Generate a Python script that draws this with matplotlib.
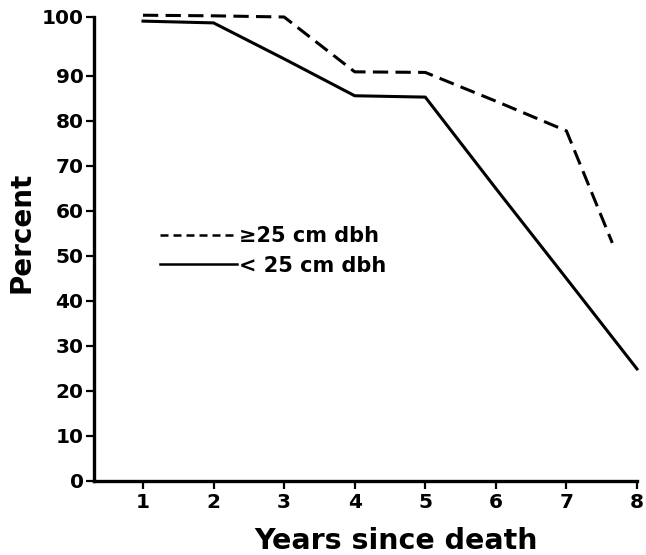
import numpy as np
import matplotlib
matplotlib.use("Agg")
import matplotlib.pyplot as plt
from matplotlib.lines import Line2D

# ---- data ----
years_large = [1, 2, 3, 4, 5, 6, 7, 7.65]
pct_large = [100.3, 100.2, 100.0, 90.7, 90.6, 84.4, 77.8, 52.9]

years_small = [1, 2, 3, 4, 5, 6, 7, 8]
pct_small = [99.3, 99.0, 92.9, 85.6, 85.3, 65.0, 45.0, 24.9]

label_large = "\u226525 cm dbh"
label_small = "< 25 cm dbh"
x_ticks = [1, 2, 3, 4, 5, 6, 7, 8]
y_ticks = [0, 10, 20, 30, 40, 50, 60, 70, 80, 90, 100]

# stretched top segment of the hand-drawn y axis (90-100)
BREAK = 90.0
STRETCH = 1.31


def fwd(y):
    y = np.asarray(y, dtype=float)
    return np.where(y <= BREAK, y, BREAK + (y - BREAK) * STRETCH)


def inv(u):
    u = np.asarray(u, dtype=float)
    return np.where(u <= BREAK, u, BREAK + (u - BREAK) / STRETCH)


W, H = 646, 555
fig = plt.figure(figsize=(W / 100, H / 100), dpi=100)
ax = fig.add_axes([94 / W, (H - 481) / H, 543 / W, 464 / H])
ax.set_yscale("function", functions=(fwd, inv))

lw = 2.2
ax.plot(years_large, pct_large, color="black", lw=lw, dashes=(5, 2.4),
        solid_joinstyle="miter", clip_on=False)
ax.plot(years_small, pct_small, color="black", lw=lw, clip_on=False)

ax.set_xlim(0.306, 8)
ax.set_ylim(0, 100)
ax.set_xticks(x_ticks)
ax.set_yticks(y_ticks)
ax.set_xticklabels([str(v) for v in x_ticks])
ax.set_yticklabels([str(v) for v in y_ticks])
ax.yaxis.set_minor_locator(matplotlib.ticker.NullLocator())

for s in ("top", "right"):
    ax.spines[s].set_visible(False)
for s in ("left", "bottom"):
    ax.spines[s].set_linewidth(2.4)

font = "DejaVu Sans"
ax.tick_params(axis="both", direction="out", length=5.5, width=1.6,
               labelsize=14.5, pad=2)
ax.tick_params(axis="x", labelsize=14.5, pad=3)
for t in ax.get_xticklabels() + ax.get_yticklabels():
    t.set_fontweight("bold")
    t.set_family(font)

ax.set_xlabel("Years since death", fontsize=20.5, fontweight="bold", family=font)
ax.set_ylabel("Percent", fontsize=20, fontweight="bold", family=font)
ax.xaxis.set_label_coords((396 - 94) / 543, (481 - 549) / 464)
ax.xaxis.label.set_va("baseline")
ax.yaxis.set_label_coords((22 - 94) / 543, (481 - 232) / 464)
ax.yaxis.label.set_va("center")

handles = [
    Line2D([], [], color="black", lw=1.8, dashes=(3.2, 2.0)),
    Line2D([], [], color="black", lw=1.8),
]
leg = ax.legend(handles, [label_large, label_small], loc="center left",
                bbox_to_anchor=(160 / W, 1 - 251 / H), bbox_transform=fig.transFigure,
                frameon=False, borderpad=0, borderaxespad=0, handlelength=3.7,
                handletextpad=0.1, labelspacing=0.45,
                prop={"family": font, "weight": "bold", "size": 15})

fig.savefig("out.png", dpi=100)
